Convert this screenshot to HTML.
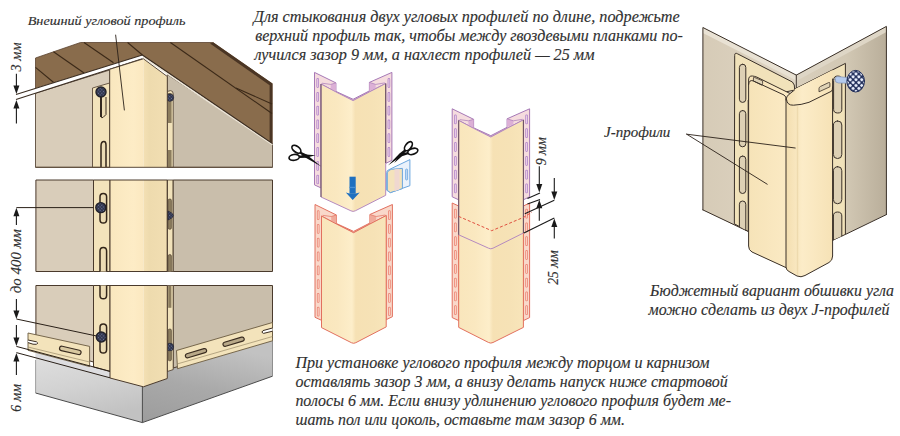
<!DOCTYPE html>
<html><head><meta charset="utf-8">
<style>
html,body{margin:0;padding:0;background:#fff;}
svg{display:block;}
text{font-family:"Liberation Serif",serif;font-style:italic;fill:#303030;stroke:#303030;stroke-width:0.15px;}
</style></head>
<body>
<svg width="900" height="436" viewBox="0 0 900 436">
<defs>
  <pattern id="nailp" width="2.4" height="2.4" patternUnits="userSpaceOnUse" patternTransform="rotate(45)">
    <rect width="2.4" height="2.4" fill="#2c3148"/>
    <rect x="0.55" y="0.55" width="1.2" height="1.2" fill="#6f789e"/>
  </pattern>
  <pattern id="nailp2" width="4.1" height="4.1" patternUnits="userSpaceOnUse" patternTransform="rotate(45 855.7 81.2)">
    <rect width="4.1" height="4.1" fill="#1f2c58"/>
    <rect x="0.55" y="0.55" width="3" height="3" rx="1.1" fill="#e6ecfb"/>
  </pattern>
  <linearGradient id="faceg" x1="0" x2="1" y1="0" y2="0">
    <stop offset="0" stop-color="#f9e6bc"/>
    <stop offset="0.25" stop-color="#fae8c0"/>
    <stop offset="0.47" stop-color="#fdeeca"/>
    <stop offset="0.53" stop-color="#f6e1b4"/>
    <stop offset="0.8" stop-color="#f6e2b6"/>
    <stop offset="1" stop-color="#f8e5ba"/>
  </linearGradient>
  <linearGradient id="lf" x1="0" x2="1" y1="0" y2="0">
    <stop offset="0" stop-color="#f9e7be"/><stop offset="0.7" stop-color="#fdecc6"/><stop offset="1" stop-color="#fbe8c0"/>
  </linearGradient>
  <linearGradient id="rf" x1="0" x2="1" y1="0" y2="0">
    <stop offset="0" stop-color="#f4e0b4"/><stop offset="0.25" stop-color="#eedbae"/><stop offset="1" stop-color="#f1deb2"/>
  </linearGradient>
  <linearGradient id="plL" x1="0" x2="0.3" y1="0" y2="1">
    <stop offset="0" stop-color="#e0e0e0"/><stop offset="0.55" stop-color="#d2d2d2"/><stop offset="1" stop-color="#c2c2c2"/>
  </linearGradient>
  <linearGradient id="plR" x1="0" x2="0.35" y1="1" y2="0">
    <stop offset="0" stop-color="#9c9c9c"/><stop offset="0.5" stop-color="#a9a9a9"/><stop offset="1" stop-color="#c2c2c2"/>
  </linearGradient>
  <linearGradient id="rwall" x1="0" x2="1" y1="0" y2="0">
    <stop offset="0" stop-color="#d6cbb8"/><stop offset="1" stop-color="#bdb3a0"/>
  </linearGradient>
  <linearGradient id="lwall" x1="0" x2="1" y1="0" y2="0">
    <stop offset="0" stop-color="#d3c8b4"/><stop offset="1" stop-color="#dcd1be"/>
  </linearGradient>
</defs>
<rect width="900" height="436" fill="#ffffff"/>

<!-- ================= LEFT FIGURE ================= -->
<g id="left" stroke-linejoin="round">
<!-- panel 1 -->
<g>
  <!-- roof -->
  <polygon points="35.5,58 80.5,42.5 213.5,42.5 272.5,83.5 272.5,144 142.4,55.5 35.5,88.3" fill="#896c4c"/>
  <polygon points="213.5,42.5 272.5,83.5 272.5,144 269.6,142 269.6,85.2 210,43.5" fill="#4a3524"/>
  <polyline points="35.5,88.3 35.5,58 80.5,42.5 213.5,42.5" fill="none" stroke="#5a4330" stroke-width="0.8"/>
  <g stroke="#3b2918" stroke-width="1.1" fill="none">
    <line x1="53.5" y1="51.8" x2="84" y2="73"/>
    <line x1="84" y1="42.5" x2="113.5" y2="62.7"/>
    <line x1="35.5" y1="67.4" x2="54.3" y2="83"/>
    <line x1="127.6" y1="42.5" x2="142.4" y2="55"/>
    <line x1="170.4" y1="42.5" x2="272" y2="113.5"/>
    <line x1="236" y1="88" x2="272" y2="104"/>
  </g>
  <!-- left wall -->
  <polygon points="35.5,93.2 109.7,70 109.7,167.3 35.5,167.3" fill="#d9cdba" stroke="#5a4a3a" stroke-width="0.9"/>
  <!-- right wall -->
  <polygon points="167.3,74.5 272.5,144 272.5,167.3 167.3,167.3" fill="#c9beab" stroke="#5a4a3a" stroke-width="0.9"/>
  <!-- white gap -->
  <polygon points="16,94.5 142.4,55 143.6,58.6 142.4,58.8 16,99.4" fill="#ffffff"/>
  <polyline points="142.8,56.8 205,99.3 272.5,144.6" fill="none" stroke="#efe8da" stroke-width="1.4"/>
  <polyline points="16,94.5 142.4,55 272.5,143.6" fill="none" stroke="#3a2c20" stroke-width="1.1"/>
  <polyline points="16,99.4 142.4,58.8" fill="none" stroke="#3a2c20" stroke-width="1.1"/>
  <!-- right flange -->
  <path d="M167.2,91.5 L170.5,90.6 Q173.2,90.6 173.2,94 L173.2,167.3 L167.2,167.3 Z" fill="#f1e2ba" stroke="#4a3a2c" stroke-width="0.8"/>
  <rect x="168" y="93" width="3.6" height="30" fill="#8c7d5e"/>
  <rect x="168" y="150" width="3.6" height="17" fill="#8c7d5e"/>
  <circle cx="169.9" cy="97.6" r="3.7" fill="url(#nailp)" stroke="#2a2a36" stroke-width="0.8"/>
  <!-- left flange -->
  <polygon points="92.5,88 109.7,83 109.7,167.3 92.5,167.3" fill="#f3e3bb" stroke="#5a4a3a" stroke-width="0.9"/>
  <!-- profile faces -->
  <polygon points="109.7,69.3 143.4,58.8 143.4,167.3 109.7,167.3" fill="url(#lf)"/>
  <polygon points="143.4,58.8 167.3,76.5 167.3,167.3 143.4,167.3" fill="url(#rf)"/>
  <polyline points="109.7,167.3 109.7,69.3 143.4,58.8 167.3,76.5 167.3,167.3" fill="none" stroke="#4a3a2c" stroke-width="0.9"/>
  <!-- slots -->
  <path d="M101,97 L101,116 Q101,118.5 103,117.5 L106,114.5 L106,97" fill="#ecdcb4" stroke="#3a2c20" stroke-width="1"/><line x1="101" y1="96" x2="101" y2="117" stroke="#2a2018" stroke-width="1.8"/>
  <path d="M101,167 L101,146 Q101,141.5 104,141.5 Q106,141.5 106,145 L106,167" fill="#ecdcb4" stroke="#33261a" stroke-width="1.5"/>
  <circle cx="101" cy="92" r="5" fill="url(#nailp)" stroke="#22222a" stroke-width="1.4"/>
  <line x1="35.5" y1="167.3" x2="272.5" y2="167.3" stroke="#5a4a3a" stroke-width="1"/>
</g>

<!-- panel 2 -->
<g>
  <rect x="35.9" y="180" width="57.6" height="91.5" fill="#d9cdba" stroke="#4a3a2c" stroke-width="1"/>
  <rect x="93.5" y="180" width="16.5" height="91.5" fill="#f3e3bb" stroke="#4a3a2c" stroke-width="1"/>
  <rect x="110" y="180" width="33.4" height="91.5" fill="url(#lf)"/>
  <rect x="143.4" y="180" width="23.9" height="91.5" fill="url(#rf)"/>
  <rect x="167.3" y="180" width="5.9" height="91.5" fill="#f1e2ba" stroke="#4a3a2c" stroke-width="0.8"/>
  <rect x="173.2" y="180" width="99.3" height="91.5" fill="#c9beab" stroke="#4a3a2c" stroke-width="1"/>
  <polyline points="110,271.5 110,180 167.3,180 167.3,271.5 110,271.5" fill="none" stroke="#4a3a2c" stroke-width="1"/>
  <line x1="16.4" y1="207.6" x2="93.5" y2="207.6" stroke="#2a2018" stroke-width="1"/>
  <rect x="100" y="193.4" width="6.6" height="29.6" rx="3.3" fill="#ecdcb4" stroke="#33261a" stroke-width="1.5"/>
  <circle cx="100.8" cy="207.6" r="5" fill="url(#nailp)" stroke="#22222a" stroke-width="1.4"/>
  <path d="M100,271.5 L100,251 Q100,247.4 103.3,247.4 Q106.6,247.4 106.6,251 L106.6,271.5" fill="#ecdcb4" stroke="#33261a" stroke-width="1.5"/>
  <rect x="168.2" y="199" width="3.2" height="30.3" rx="1.4" fill="#8c7d5e" stroke="#4a3a2c" stroke-width="0.6"/>
  <path d="M168.2,271.5 L168.2,256 Q168.2,254.5 169.8,254.5 Q171.4,254.5 171.4,256 L171.4,271.5" fill="#8c7d5e" stroke="#4a3a2c" stroke-width="0.6"/>
  <path d="M168,211 Q173,213 173.4,215.5 Q173,218 168,220 Z" fill="url(#nailp)" stroke="#2a2a36" stroke-width="0.8"/>
</g>

<!-- panel 3 -->
<g>
  <!-- plinth -->
  <polygon points="35.6,352 110,372 142.4,386.8 142.4,422.6 35.6,393" fill="url(#plL)"/>
  <polygon points="142.4,386.8 167.3,378.5 167.3,366 178,366 272.5,338 272.5,376.2 142.4,422.6" fill="url(#plR)"/>
  <polyline points="35.6,393 142.4,422.6 272.5,376.2" fill="none" stroke="#4a4a4a" stroke-width="1"/><polyline points="35.6,360 35.6,393" fill="none" stroke="#8a8a8a" stroke-width="0.8"/><polyline points="272.5,376.2 272.5,340" fill="none" stroke="#7a7a7a" stroke-width="0.8"/>
  <line x1="142.4" y1="386.8" x2="142.4" y2="422.6" stroke="#4a4a4a" stroke-width="1"/>
  <polygon points="35.6,352 110,372 110,378 35.6,358.5" fill="#dddde0"/>
  <!-- walls -->
  <polygon points="35.9,285.5 93.5,285.5 93.5,362 35.9,346" fill="#d9cdba" stroke="#4a3a2c" stroke-width="1"/>
  <polygon points="173.2,285.5 272.5,285.5 272.5,338 173.2,368" fill="#c9beab" stroke="#4a3a2c" stroke-width="1"/>
  <!-- right flange -->
  <polygon points="167.3,285.5 173.2,285.5 173.2,369.6 167.3,371.5" fill="#f1e2ba" stroke="#4a3a2c" stroke-width="0.8"/>
  <rect x="168.2" y="286" width="3.2" height="21.8" fill="#8c7d5e"/>
  <rect x="168.2" y="329" width="3.2" height="31.8" rx="1.4" fill="#8c7d5e" stroke="#4a3a2c" stroke-width="0.6"/>
  <circle cx="169.9" cy="347" r="3.8" fill="url(#nailp)" stroke="#2a2a36" stroke-width="0.8"/>
  <!-- flange left -->
  <polygon points="93.5,285.5 110,285.5 110,371.5 93.5,367" fill="#f3e3bb" stroke="#4a3a2c" stroke-width="1"/>
  <!-- faces -->
  <polygon points="110,285.5 143.4,285.5 143.4,386.8 110,378" fill="url(#lf)"/>
  <polygon points="143.4,285.5 167.3,285.5 167.3,378.5 143.4,386.8" fill="url(#rf)"/>
  <polygon points="110,285.5 167.3,285.5 167.3,378.5 143.4,386.8 110,378" fill="none" stroke="#4a3a2c" stroke-width="1"/>
  <!-- slots -->
  <path d="M100,285.5 L100,295.5 Q100,298.8 103.3,298.8 Q106.6,298.8 106.6,295.5 L106.6,285.5" fill="#ecdcb4" stroke="#33261a" stroke-width="1.5"/>
  <rect x="100" y="324" width="6.6" height="29" rx="3.3" fill="#ecdcb4" stroke="#33261a" stroke-width="1.5"/>
  <!-- starter strip left -->
  <polygon points="28,333 89.6,346.4 89.6,366.6 28,350.3" fill="#f3e3bb" stroke="#6a5a40" stroke-width="0.9"/>
  <line x1="28" y1="347" x2="89.6" y2="362" stroke="#9a8a68" stroke-width="0.7"/>
  <path d="M28,340 L36.5,341.8 Q39,343 36.5,344.3 L33,344.2 L28,342.6" fill="#fff" stroke="#3a2c20" stroke-width="1"/>
  <rect x="-11" y="-2.2" width="22" height="4.4" rx="2.2" transform="translate(70.3,350.4) rotate(13)" fill="#d8c8a0" stroke="#3a2c20" stroke-width="1.2"/>
  <!-- starter strip right -->
  <polygon points="176.5,350.5 272.5,322.5 272.5,340.8 177.5,368.7" fill="#f3e3bb" stroke="#6a5a40" stroke-width="0.9"/>
  <line x1="177" y1="364" x2="272.5" y2="336.5" stroke="#9a8a68" stroke-width="0.7"/>
  <rect x="-11" y="-2.1" width="22" height="4.2" rx="2.1" transform="translate(196,353.2) rotate(-16.5)" fill="#b8a888" stroke="#3a2c20" stroke-width="1.2"/>
  <rect x="-11" y="-2.1" width="22" height="4.2" rx="2.1" transform="translate(233.6,341.7) rotate(-16.5)" fill="#b8a888" stroke="#3a2c20" stroke-width="1.2"/>
  <path d="M272.5,328 L263,330.6 Q260.5,332.4 263.5,333.4 L272.5,331.2" fill="#fff" stroke="#3a2c20" stroke-width="1"/>
  <!-- dims -->
  <line x1="16.4" y1="319" x2="101.3" y2="337" stroke="#2a2018" stroke-width="1"/>
  <line x1="16.4" y1="346.4" x2="110" y2="371.3" stroke="#2a2018" stroke-width="1"/>
  <line x1="16.4" y1="352.6" x2="110" y2="377.8" stroke="#2a2018" stroke-width="1"/>
  <circle cx="101.3" cy="337" r="5" fill="url(#nailp)" stroke="#22222a" stroke-width="1.4"/>
</g>

<!-- arrows / dims left -->
<g stroke="#1a1a1a" stroke-width="1.1" fill="#1a1a1a">
  <line x1="16.4" y1="73.7" x2="16.4" y2="90"/><polygon points="16.4,94 13.4,85.5 19.4,85.5" stroke="none"/>
  <line x1="16.4" y1="123.5" x2="16.4" y2="104"/><polygon points="16.4,100 13.4,108.5 19.4,108.5" stroke="none"/>
  <line x1="16.4" y1="225" x2="16.4" y2="212"/><polygon points="16.4,207.8 13.4,216.3 19.4,216.3" stroke="none"/>
  <line x1="16.4" y1="299" x2="16.4" y2="315"/><polygon points="16.4,319 13.4,310.5 19.4,310.5" stroke="none"/>
  <line x1="16.4" y1="325" x2="16.4" y2="342"/><polygon points="16.4,346 13.4,337.5 19.4,337.5" stroke="none"/>
  <line x1="16.4" y1="375" x2="16.4" y2="357"/><polygon points="16.4,353 13.4,361.5 19.4,361.5" stroke="none"/>
</g>
<line x1="115.6" y1="34.7" x2="124.4" y2="110.4" stroke="#2a2018" stroke-width="0.9"/>
<text x="27.7" y="25.3" font-size="13.5" textLength="157.7" lengthAdjust="spacingAndGlyphs">Внешний угловой профиль</text>
<text transform="translate(20.7,71.4) rotate(-90)" font-size="15" textLength="29" lengthAdjust="spacingAndGlyphs">3 мм</text>
<text transform="translate(21,293.2) rotate(-90)" font-size="15" textLength="64" lengthAdjust="spacingAndGlyphs">до 400 мм</text>
<text transform="translate(21,411.7) rotate(-90)" font-size="15" textLength="27.7" lengthAdjust="spacingAndGlyphs">6 мм</text>
</g>

<!-- MIDDLE -->
<g id="middle" stroke-linejoin="round">
<g transform="translate(315,204.5)">
<polygon points="0,0 21.4,10.5 21.4,19 38.6,26.9 54.9,18.5 54.9,10 77.4,0 77.4,112.2 71.2,115.2 71.2,11.1 54.9,19.5 38.6,28.2 21.4,19.5 6.5,11.6 6.5,115.8 0,112.8" fill="#f9d8ca" stroke="#e2705f" stroke-width="1"/>
<line x1="3.2" y1="7" x2="3.2" y2="110.8" stroke="#ea8372" stroke-width="2.6" stroke-linecap="round" stroke-dasharray="7.2 6.6"/>
<line x1="3.2" y1="7" x2="3.2" y2="110.8" stroke="#fbd3c6" stroke-width="1.1" stroke-linecap="round" stroke-dasharray="7.2 6.6"/>
<line x1="74.4" y1="7" x2="74.4" y2="110.2" stroke="#ea8372" stroke-width="2.6" stroke-linecap="round" stroke-dasharray="7.2 6.6"/>
<line x1="74.4" y1="7" x2="74.4" y2="110.2" stroke="#fbd3c6" stroke-width="1.1" stroke-linecap="round" stroke-dasharray="7.2 6.6"/>
<polygon points="16.2,12 21.4,10.5 21.4,19 16.2,16.4" fill="#f0aa9a"/>
<polygon points="61.2,12 54.9,10 54.9,18.5 61.2,15.8" fill="#f0aa9a"/>
<polyline points="7.5,10.8 16.2,12 21.4,10.5" fill="none" stroke="#e2705f" stroke-width="0.7"/>
<polyline points="70.3,10.5 61.2,12 54.9,10" fill="none" stroke="#e2705f" stroke-width="0.7"/>
<path d="M6.5,11.6 L21.4,19.5 L38.6,28.2 L54.9,19.5 L71.2,11.1 L71.2,122.4 L40.8,138.20000000000002 Q38.6,139.4 36.4,138.20000000000002 L6.5,123.1 Z" fill="url(#faceg)" stroke="#e2705f" stroke-width="1"/>
</g>
<g transform="translate(314.5,72.4)">
<polygon points="0,0 21.4,10.5 21.4,19 38.6,26.9 54.9,18.5 54.9,10 77.4,0 77.4,88 71.2,91 71.2,11.1 54.9,19.5 38.6,28.2 21.4,19.5 6.5,11.6 6.5,115.5 0,112.5" fill="#f5dcde" stroke="#a678b6" stroke-width="1"/>
<line x1="3.2" y1="7" x2="3.2" y2="110.5" stroke="#b184c8" stroke-width="2.6" stroke-linecap="round" stroke-dasharray="7.2 6.6"/>
<line x1="3.2" y1="7" x2="3.2" y2="110.5" stroke="#ecd0e6" stroke-width="1.1" stroke-linecap="round" stroke-dasharray="7.2 6.6"/>
<line x1="74.4" y1="7" x2="74.4" y2="86" stroke="#b184c8" stroke-width="2.6" stroke-linecap="round" stroke-dasharray="7.2 6.6"/>
<line x1="74.4" y1="7" x2="74.4" y2="86" stroke="#ecd0e6" stroke-width="1.1" stroke-linecap="round" stroke-dasharray="7.2 6.6"/>
<polygon points="16.2,12 21.4,10.5 21.4,19 16.2,16.4" fill="#dcb0d6"/>
<polygon points="61.2,12 54.9,10 54.9,18.5 61.2,15.8" fill="#dcb0d6"/>
<polyline points="7.5,10.8 16.2,12 21.4,10.5" fill="none" stroke="#a678b6" stroke-width="0.7"/>
<polyline points="70.3,10.5 61.2,12 54.9,10" fill="none" stroke="#a678b6" stroke-width="0.7"/>
<path d="M6.5,11.6 L21.4,19.5 L38.6,28.2 L54.9,19.5 L71.2,11.1 L71.2,122.9 L40.8,138.4 Q38.6,139.6 36.4,138.4 L6.5,124.6 Z" fill="url(#faceg)" stroke="#b58abf" stroke-width="1"/>
</g>
<line x1="321" y1="84" x2="321" y2="197" stroke="#5e4650" stroke-width="0.9"/>
<line x1="385.7" y1="83.5" x2="385.7" y2="163" stroke="#5e4650" stroke-width="0.9"/>
<!-- blue arrow -->
<g fill="#1f70c0">
  <rect x="349.5" y="176.7" width="6.2" height="17"/>
  <rect x="349.5" y="186.8" width="6.2" height="1.3" fill="#4a90d6"/>
  <polygon points="345.8,192.6 349.5,193.6 355.7,193.6 359.7,192.6 352.7,200"/>
</g>
<!-- cut piece -->
<g stroke="#6aa6de" stroke-width="1" stroke-linejoin="round">
  <path d="M386.7,172.5 Q386.7,170.6 388.5,169.9 L409.9,159.6 L409.9,185.7 L390.4,192.6 L386.7,190.2 Z" fill="#eaf2fb"/>
  <path d="M387.3,172.8 Q387.5,170.6 391.2,169.3 L402.4,168.4 L402.4,188.6 L390.4,192.6 L387.3,190.4 Z" fill="#f4e3bc"/>
  <path d="M394.5,169.2 L399.5,168.7 L399.5,189.4 L394.5,191.2 Z" fill="#f0d8d0" stroke="none"/>
  <rect x="405.6" y="169" width="2" height="11" rx="1" fill="#c5dcf4" stroke-width="0.8"/>
</g>
<!-- scissors -->
<g fill="none" stroke="#111" stroke-width="1.7">
  <ellipse cx="296.4" cy="149.2" rx="5.2" ry="2.9" transform="rotate(38 296.4 149.2)"/>
  <ellipse cx="294.2" cy="157.4" rx="5.2" ry="2.9" transform="rotate(-8 294.2 157.4)"/>
  <ellipse cx="408.4" cy="146.2" rx="5.2" ry="2.9" transform="rotate(-52 408.4 146.2)"/>
  <ellipse cx="412.8" cy="151.4" rx="5.2" ry="2.9" transform="rotate(-18 412.8 151.4)"/>
</g>
<g fill="#111">
  <polygon points="300.3,151.4 306.6,154.4 321.2,166.5 305.3,157.4 299.5,153.3"/>
  <polygon points="299.2,155.8 306,154.5 315.6,155.2 306.2,157.8 299.3,158"/>
  <polygon points="404.5,149.6 406.3,151.1 401.9,155.8 388,165.4 399.5,153.5"/>
  <polygon points="407.8,152 408.1,154.2 402,156.2 394.2,163 400,153.8"/>
</g>
<g transform="translate(452.2,203)">
<polygon points="0,0 6.5,3 6.5,117.6 0,114.6" fill="#f9d8ca" stroke="#e2705f" stroke-width="1"/>
<polygon points="77.4,0 71.2,3 71.2,117.6 77.4,114.6" fill="#f9d8ca" stroke="#e2705f" stroke-width="1"/>
<line x1="3.2" y1="7" x2="3.2" y2="112.6" stroke="#ea8372" stroke-width="2.6" stroke-linecap="round" stroke-dasharray="7.2 6.6"/>
<line x1="3.2" y1="7" x2="3.2" y2="112.6" stroke="#fbd3c6" stroke-width="1.1" stroke-linecap="round" stroke-dasharray="7.2 6.6"/>
<line x1="74.4" y1="7" x2="74.4" y2="112.6" stroke="#ea8372" stroke-width="2.6" stroke-linecap="round" stroke-dasharray="7.2 6.6"/>
<line x1="74.4" y1="7" x2="74.4" y2="112.6" stroke="#fbd3c6" stroke-width="1.1" stroke-linecap="round" stroke-dasharray="7.2 6.6"/>
<path d="M6.5,20 L71.2,20 L71.2,124.4 L40.8,139.5 Q38.6,140.7 36.4,139.5 L6.5,124.4 Z" fill="url(#faceg)" stroke="#e2705f" stroke-width="1"/>
</g>
<g transform="translate(452.2,108.8)">
<polygon points="0,0 21.4,10.5 21.4,19 38.6,26.9 54.9,18.5 54.9,10 77.4,0 77.4,88 71.2,91 71.2,11.1 54.9,19.5 38.6,28.2 21.4,19.5 6.5,11.6 6.5,91 0,88" fill="#f5dcde" stroke="#a678b6" stroke-width="1"/>
<line x1="3.2" y1="7" x2="3.2" y2="86" stroke="#b184c8" stroke-width="2.6" stroke-linecap="round" stroke-dasharray="7.2 6.6"/>
<line x1="3.2" y1="7" x2="3.2" y2="86" stroke="#ecd0e6" stroke-width="1.1" stroke-linecap="round" stroke-dasharray="7.2 6.6"/>
<line x1="74.4" y1="7" x2="74.4" y2="86" stroke="#b184c8" stroke-width="2.6" stroke-linecap="round" stroke-dasharray="7.2 6.6"/>
<line x1="74.4" y1="7" x2="74.4" y2="86" stroke="#ecd0e6" stroke-width="1.1" stroke-linecap="round" stroke-dasharray="7.2 6.6"/>
<polygon points="16.2,12 21.4,10.5 21.4,19 16.2,16.4" fill="#dcb0d6"/>
<polygon points="61.2,12 54.9,10 54.9,18.5 61.2,15.8" fill="#dcb0d6"/>
<polyline points="7.5,10.8 16.2,12 21.4,10.5" fill="none" stroke="#a678b6" stroke-width="0.7"/>
<polyline points="70.3,10.5 61.2,12 54.9,10" fill="none" stroke="#a678b6" stroke-width="0.7"/>
<path d="M6.5,11.6 L21.4,19.5 L38.6,28.2 L54.9,19.5 L71.2,11.1 L71.2,124.2 L40.8,139.4 Q38.6,140.6 36.4,139.4 L6.5,126 Z" fill="url(#faceg)" stroke="#b58abf" stroke-width="1"/>
</g>
<line x1="458.7" y1="120.4" x2="458.7" y2="234.8" stroke="#5e4650" stroke-width="0.9"/>
<line x1="523.4" y1="120" x2="523.4" y2="233" stroke="#5e4650" stroke-width="0.9"/>
<!-- red dashed -->
<polyline points="458.6,216.4 491.7,230.7 523.9,217.2 532,212" fill="none" stroke="#e0503f" stroke-width="1" stroke-dasharray="3 2"/>
<!-- dims -->
<g stroke="#1a1a1a" stroke-width="1.1" fill="none">
  <line x1="527.5" y1="198.5" x2="540" y2="193"/>
  <line x1="527.5" y1="204" x2="540" y2="199.4"/>
  <line x1="524.8" y1="213.7" x2="554.3" y2="200.3"/>
  <line x1="523.9" y1="233" x2="554.3" y2="218"/>
  <line x1="539.3" y1="166.3" x2="539.3" y2="188"/>
  <line x1="539.3" y1="220.8" x2="539.3" y2="204"/>
  <line x1="554.3" y1="177.9" x2="554.3" y2="196"/>
  <line x1="554.3" y1="238.4" x2="554.3" y2="223"/>
</g>
<g fill="#1a1a1a">
  <polygon points="539.3,192.5 536.3,184 542.3,184"/>
  <polygon points="539.3,199.8 536.3,208.3 542.3,208.3"/>
  <polygon points="554.3,200 551.3,191.5 557.3,191.5"/>
  <polygon points="554.3,218.4 551.3,226.9 557.3,226.9"/>
</g>
<text transform="translate(545.5,165.2) rotate(-90)" font-size="15" textLength="27.9" lengthAdjust="spacingAndGlyphs">9 мм</text>
<text transform="translate(558,284.8) rotate(-90)" font-size="15" textLength="34.5" lengthAdjust="spacingAndGlyphs">25 мм</text>
</g>
<!-- RIGHT -->
<g id="right" stroke-linejoin="round" stroke-linecap="round">
  <defs>
    <linearGradient id="rw2" x1="0" x2="1" y1="0" y2="0">
      <stop offset="0" stop-color="#d9cfbc"/><stop offset="0.55" stop-color="#d2c8b4"/><stop offset="1" stop-color="#b9ae9a"/>
    </linearGradient>
    <linearGradient id="lw2" x1="0" x2="1" y1="0" y2="0">
      <stop offset="0" stop-color="#d6cbb7"/><stop offset="1" stop-color="#e0d6c4"/>
    </linearGradient>
    <linearGradient id="jL" x1="0" x2="1" y1="0" y2="0">
      <stop offset="0" stop-color="#f6e3b8"/><stop offset="1" stop-color="#fbeac4"/>
    </linearGradient>
    <linearGradient id="jR" x1="0" x2="1" y1="0" y2="0">
      <stop offset="0" stop-color="#f3deb0"/><stop offset="0.35" stop-color="#fcecc8"/><stop offset="1" stop-color="#f6e2b6"/>
    </linearGradient>
  </defs>
  <!-- walls -->
  <polygon points="702.9,27.5 796.3,75.1 796.3,255 702.9,209.9" fill="url(#lw2)"/>
  <polygon points="796.3,75.1 886.4,26.4 886.4,214.6 796.3,258" fill="url(#rw2)"/>
  <polygon points="702.9,27.5 796.3,75.1 796.3,80.5 702.9,33" fill="#e9e2d4"/>
  <polygon points="796.3,75.1 886.4,26.4 886.4,32 796.3,81" fill="#ded6c6"/>
  <polyline points="702.9,209.9 702.9,27.5 796.3,75.1 886.4,26.4 886.4,214.6" fill="none" stroke="#3a3028" stroke-width="1"/>
  <polyline points="702.9,209.9 747.3,231" fill="none" stroke="#3a3028" stroke-width="1"/>
  <polyline points="845.5,234.4 886.4,214.6" fill="none" stroke="#3a3028" stroke-width="1"/>
  <line x1="796.3" y1="75.1" x2="796.3" y2="90" stroke="#3a3028" stroke-width="1"/>
  <!-- left flange -->
  <path d="M734.7,55 Q734.7,52.2 737.5,53.8 L792.4,82 Q795,84 794.7,90 L748.2,100 L748.2,231.4 L734.7,224 Z" fill="#f1e2ba" stroke="#3a3028" stroke-width="1"/>
  <!-- right flange -->
  <path d="M794.7,89 L845.4,63.4 L845.4,234.4 L832.2,240.5 L832.2,100 Z" fill="#f1e2ba" stroke="#3a3028" stroke-width="1"/>
  <!-- slots left -->
  <g fill="#ddd0b4" stroke="#3a3028" stroke-width="1">
    <rect x="739.4" y="64.2" width="6.4" height="38.2" rx="3.2"/>
    <rect x="739.4" y="110.5" width="6.4" height="36.3" rx="3.2"/>
    <rect x="739.4" y="156" width="6.4" height="37.5" rx="3.2"/>
    <path d="M739.4,226.5 L739.4,204.2 Q739.4,201 742.6,201 Q745.8,201 745.8,204.2 L745.8,230"/>
    <path d="M833.6,80 Q833.6,76 837.7,76 Q841.8,76 841.8,80 V109.8 q0,3.2 -4.1,3.2 q-4.1,0 -4.1,-3.2 Z"/>
    <rect x="833.4" y="121" width="8.4" height="37.5" rx="4"/>
    <rect x="833.4" y="166.7" width="8.4" height="37" rx="4"/>
    <path d="M833.4,239.8 L833.4,216 Q833.4,212 837.6,212 Q841.8,212 841.8,216 L841.8,236"/>
  </g>
  <!-- left J top surface + face -->
  <path d="M748.6,80 Q748.6,75.6 752.5,76 L756,76.8 L789,93 L786,97 L786,268 L752,252 Q748.6,250.2 748.6,246 Z" fill="url(#jL)"/>
  <path d="M786,267.6 L752,252 Q748.6,250.2 748.6,246 L748.6,80 Q748.6,75.6 752.5,76 Q754.5,76.2 757,77.2 L790,93.5" fill="none" stroke="#3a3028" stroke-width="1"/>
  <path d="M754,77.2 Q753.2,76.8 753.4,79 L753.4,81 L761.5,85 Q762.6,85.4 762.6,83.5 L762.6,81.2 Z" fill="#dfd3b6" stroke="#3a3028" stroke-width="0.8"/>
  <path d="M748.6,84.5 Q749,79.6 753,80.8 L763,85.3 L784,95 Q786.6,96.4 786,100" fill="none" stroke="#3a3028" stroke-width="1"/>
  <!-- right J -->
  <path d="M786,100 Q786,96 790,93.6 L795,89 L832.6,70 L832.6,256 Q832.6,260.5 829,262.5 L805,275.5 Q801,277.8 797,276 L789,271.5 Q786,270 786,267 Z" fill="url(#jR)"/>
  <path d="M832.6,79 L832.6,256 Q832.6,260.5 829,262.5 L805,275.5 Q801,277.8 797,276 L789,271.5 Q786,270 786,267 L786,100 Q786,96 790,93.6 L794.5,90" fill="none" stroke="#3a3028" stroke-width="1"/>
  <path d="M786.5,99.5 Q787,105.5 793.5,105.2 Q801,105 809,102.3 L831.5,91.2 Q832.6,90.5 832.6,87" fill="none" stroke="#3a3028" stroke-width="1"/>
  <path d="M819,91.4 L819,88.6 Q819,87.2 820.4,86.5 L828.6,82.6 Q829.9,82 829.9,83.6 L829.9,86.4 Z" fill="#dfd3b6" stroke="#3a3028" stroke-width="0.8"/>
  <line x1="797.5" y1="107" x2="797.5" y2="274" stroke="#ead5a6" stroke-width="1.4" opacity="0.7"/>
  <!-- nail -->
  <path d="M835,79.5 Q835,76 838.5,76.6 L848,77.6 L848,83.2 L838.5,83 Q835,83 835,79.5 Z" fill="#b4caec" stroke="#7a8aa8" stroke-width="0.6"/>
  <ellipse cx="855.7" cy="81.2" rx="8.8" ry="10.8" fill="url(#nailp2)" stroke="#1f2c58" stroke-width="1"/>
  <!-- callouts -->
  <line x1="686.7" y1="134.2" x2="795.2" y2="148" stroke="#2a2018" stroke-width="0.9"/>
  <line x1="686.7" y1="134.2" x2="767.2" y2="184.2" stroke="#2a2018" stroke-width="0.9"/>
  <text x="604" y="137.3" font-size="14.3" textLength="66.3" lengthAdjust="spacingAndGlyphs">J-профили</text>
  <text x="650.1" y="295.7" font-size="17" textLength="243.9" lengthAdjust="spacingAndGlyphs">Бюджетный вариант обшивки угла</text>
  <text x="648.6" y="315.2" font-size="17" textLength="240.8" lengthAdjust="spacingAndGlyphs">можно сделать из двух J-профилей</text>
</g>


<!-- TEXT -->
<g font-size="17.5">
<text x="253.6" y="21.7" textLength="426" lengthAdjust="spacingAndGlyphs">Для стыкования двух угловых профилей по длине, подрежьте</text>
<text x="255.2" y="40.6" textLength="427.6" lengthAdjust="spacingAndGlyphs">верхний профиль так, чтобы между гвоздевыми планками по-</text>
<text x="254.4" y="59.5" textLength="340.1" lengthAdjust="spacingAndGlyphs">лучился зазор 9 мм, а нахлест профилей — 25 мм</text>
<text x="295.4" y="367.5" textLength="414.1" lengthAdjust="spacingAndGlyphs">При установке углового профиля между торцом и карнизом</text>
<text x="295.4" y="386.8" textLength="432.3" lengthAdjust="spacingAndGlyphs">оставлять зазор 3 мм, а внизу делать напуск ниже стартовой</text>
<text x="295.4" y="406.1" textLength="435.6" lengthAdjust="spacingAndGlyphs">полосы 6 мм. Если внизу удлинению углового профиля будет ме-</text>
<text x="295.4" y="425.4" textLength="329.6" lengthAdjust="spacingAndGlyphs">шать пол или цоколь, оставьте там зазор 6 мм.</text>
</g>
</svg>
</body></html>
